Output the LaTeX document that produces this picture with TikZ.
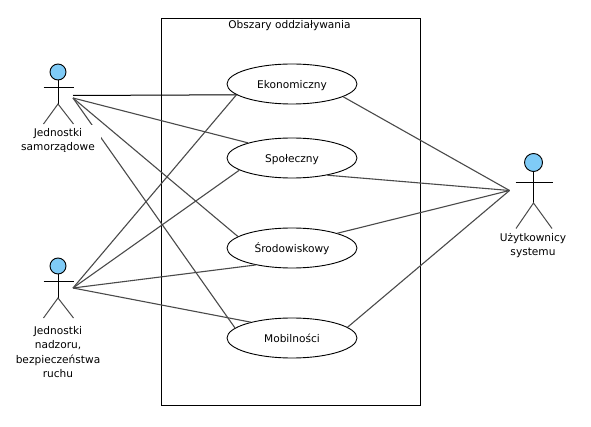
\documentclass[tikz,border=0pt]{standalone}
\usepackage{fontspec}
\setmainfont{DejaVu Sans}
\usetikzlibrary{shapes.geometric}
\definecolor{headblue}{HTML}{7FCBF7}
\definecolor{linkgrey}{HTML}{4A4A4A}
\tikzset{
  txt/.style={font=\fontsize{10.6}{14.3}\selectfont,text=black,inner sep=0pt},
  usecase/.style={ellipse,draw=black,line width=0.9pt,fill=white,minimum width=130pt,minimum height=40pt,inner sep=0pt,txt,text height=8.6pt,text depth=0pt},
  head/.style={circle,draw=black,line width=0.9pt,fill=headblue,inner sep=0pt,minimum size=#1},
  stick/.style={draw=black,line width=1pt},
  leg/.style={draw=linkgrey,line width=1pt},
  link/.style={draw=linkgrey,line width=1.1pt},
  actorlabel/.style={txt,fill=white,align=center,minimum width=86pt,minimum height=31pt},
}
\begin{document}
\begin{tikzpicture}[x=1pt,y=-1pt]
\useasboundingbox[fill=white] (0,0) rectangle (591,427);
\node[draw=black,line width=1pt,minimum width=259pt,minimum height=386.5pt,inner sep=0pt] (box) at (291,211.75) {};
\node[txt] (title) at (289.5,25.5) {Obszary oddziaływania};
% use cases
\node[usecase] (eko) at (292,84) {Ekonomiczny};
\node[usecase] (spo) at (292,158) {Społeczny};
\node[usecase] (sro) at (292,248) {Środowiskowy};
\node[usecase] (mob) at (292,338) {Mobilności};
% connector points
\coordinate (a0) at (73,95.5);
\coordinate (a) at (73,98);
\coordinate (b) at (73,288);
\coordinate (c) at (509.5,190.5);
% connectors
\draw[draw=black,line width=1pt] (a0) -- (eko.191);
\draw[link] (a) -- (spo.161);
\draw[link] (a) -- (sro.168.5);
\draw[link] (a) -- (mob.170);
\draw[link] (b) -- (eko.191);
\draw[link] (b) -- (spo.193);
\draw[link] (b) -- (sro.205);
\draw[link] (b) -- (mob.159);
\draw[link] (c) -- (eko.-14);
\draw[link] (c) -- (spo.-26);
\draw[link] (c) -- (sro.18.5);
\draw[link] (c) -- (mob.11.5);
% actor 1
\node[head=16pt] (h1) at (58,72) {};
\coordinate (h1hip) at (58,104);
\coordinate (h1l) at (43.5,88);
\coordinate (h1r) at (73.5,88);
\coordinate (h1fl) at (43.5,124);
\coordinate (h1fr) at (73.5,124);
\draw[stick] (h1.south) -- (h1hip);
\draw[stick] (h1l) -- (h1r);
\draw[leg] (h1fl) -- (h1hip) -- (h1fr);
\node[actorlabel] (l1) at (58,140.5) {Jednostki\\samorządowe};
% actor 2
\node[head=16pt] (h2) at (58,266) {};
\coordinate (h2hip) at (58,298);
\coordinate (h2l) at (43.5,282);
\coordinate (h2r) at (73.5,282);
\coordinate (h2fl) at (43.5,318);
\coordinate (h2fr) at (73.5,318);
\draw[stick] (h2.south) -- (h2hip);
\draw[stick] (h2l) -- (h2r);
\draw[leg] (h2fl) -- (h2hip) -- (h2fr);
\node[txt,align=center] (l2) at (58,352) {Jednostki\\nadzoru,\\bezpieczeństwa\\ruchu};
% actor 3
\node[head=18pt] (h3) at (533.5,162.5) {};
\coordinate (h3hip) at (533.5,203);
\coordinate (h3l) at (515.5,183);
\coordinate (h3r) at (552.5,183);
\coordinate (h3fl) at (516,228.5);
\coordinate (h3fr) at (552,228.5);
\draw[stick] (h3.south) -- (h3hip);
\draw[stick] (h3l) -- (h3r);
\draw[leg] (h3fl) -- (h3hip) -- (h3fr);
\node[txt,align=center] (l3) at (533,245.5) {Użytkownicy\\systemu};
\end{tikzpicture}
\end{document}
